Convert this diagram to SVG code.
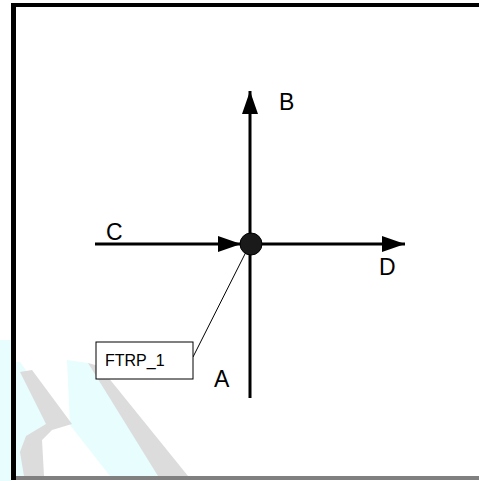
<svg xmlns="http://www.w3.org/2000/svg" width="479" height="481" viewBox="0 0 479 481">
<style>
.ln{stroke:#000;stroke-width:3;fill:none}
.lbl{font-family:"Liberation Sans",Arial,sans-serif;font-size:23px;fill:#000}
.sm{font-family:"Liberation Sans",Arial,sans-serif;font-size:16px;fill:#000}
.wc{fill:#e8fdfd}
.wg{fill:#dcdcdc}
</style>
<defs>
<marker id="ah" markerWidth="23" markerHeight="16" refX="23" refY="8" orient="auto" markerUnits="userSpaceOnUse">
<path d="M0,0 L23,8 L0,16 Z" fill="#000"/>
</marker>
</defs>
<rect width="479" height="481" fill="#fff"/>
<g id="watermark">
<rect class="wc" x="0" y="340" width="11" height="141"/>
<polygon class="wc" points="16,362 20,362 62,420 40,440 38,476 16,476"/>
<polygon class="wc" points="67,360 88,363 160,476 110,476 70,425"/>
<polygon class="wg" points="20,372 32,370 72,424 52,430 42,440 44,476 24,476 20,452 26,436 46,424"/>
<polygon class="wg" points="88,363 99,366 188,476 158,476"/>
</g>
<g id="frame">
<rect x="11" y="3" width="468" height="4" fill="#000"/>
<rect x="11" y="3" width="5" height="477" fill="#000"/>
<rect x="16" y="476" width="463" height="4" fill="#808080"/>
</g>
<g id="connectors">
<line class="ln" x1="250" y1="398" x2="250" y2="91" marker-end="url(#ah)"/>
<line class="ln" x1="250" y1="244" x2="405" y2="244" marker-end="url(#ah)"/>
<line class="ln" x1="95" y1="244" x2="241" y2="244" marker-end="url(#ah)"/>
<line x1="193" y1="357" x2="249" y2="246" stroke="#000" stroke-width="1"/>
</g>
<g id="node-center">
<circle cx="251" cy="244" r="11" fill="#1a1a1a" stroke="#000" stroke-width="1"/>
</g>
<g id="label-B"><text class="lbl" x="279" y="110">B</text></g>
<g id="label-C"><text class="lbl" x="106" y="240">C</text></g>
<g id="label-D"><text class="lbl" x="379" y="275">D</text></g>
<g id="label-A"><text class="lbl" x="214" y="387">A</text></g>
<g id="node-FTRP_1">
<rect x="96" y="342" width="97" height="37" fill="#fff" stroke="#000" stroke-width="1"/>
<text class="sm" x="105" y="366">FTRP_1</text>
</g>
</svg>
